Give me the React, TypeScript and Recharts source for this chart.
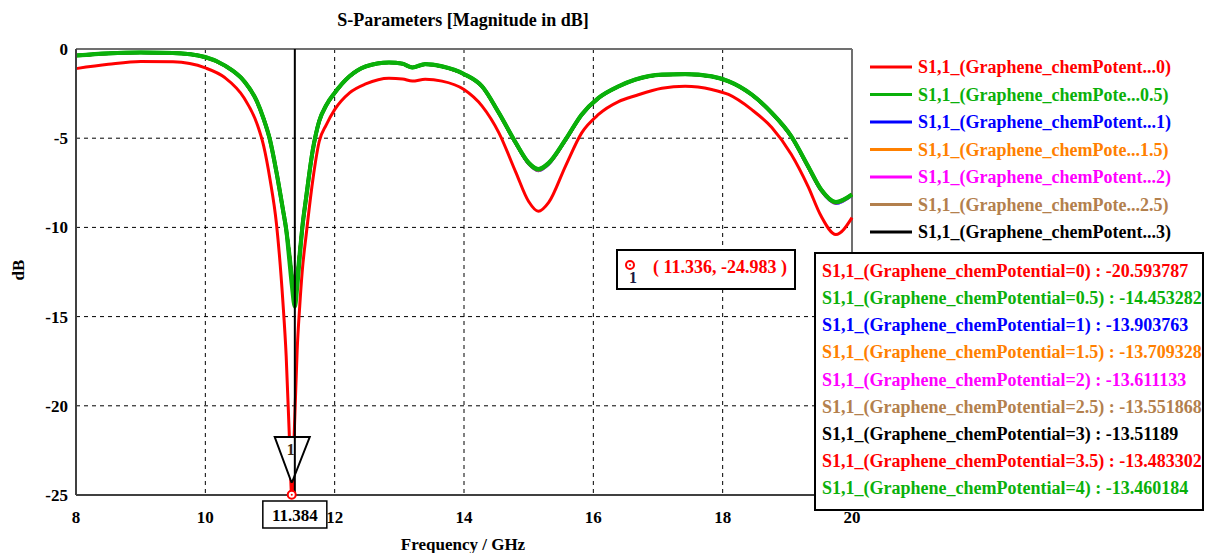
import React from 'react';
import { LineChart, Line, XAxis, YAxis, CartesianGrid, ReferenceLine, ReferenceDot } from 'recharts';

const FONT = '"Liberation Serif", "Times New Roman", serif';

const freq = [8.0, 8.5, 9.0, 9.5, 10.0, 10.3, 10.6, 10.8, 10.9, 11.0, 11.1, 11.2, 11.25, 11.3, 11.336, 11.384, 11.42, 11.46, 11.5, 11.56, 11.66, 11.76, 11.87, 12.0, 12.23, 12.48, 12.84, 13.05, 13.2, 13.4, 13.66, 14.0, 14.28, 14.54, 14.8, 15.0, 15.15, 15.31, 15.57, 15.82, 16.08, 16.39, 16.65, 17.06, 17.42, 17.83, 18.09, 18.45, 18.76, 19.06, 19.32, 19.52, 19.75, 20.0];

const s0 = [-1.10, -0.86, -0.70, -0.72, -1.06, -1.60, -2.75, -4.20, -5.40, -7.30, -9.80, -14.20, -17.20, -21.80, -24.983, -20.594, -16.90, -14.40, -12.40, -10.40, -7.40, -5.20, -4.25, -3.40, -2.46, -1.96, -1.64, -1.68, -1.80, -1.70, -1.80, -2.27, -3.20, -4.70, -6.90, -8.55, -9.10, -8.60, -6.56, -4.70, -3.67, -2.95, -2.62, -2.20, -2.09, -2.27, -2.55, -3.40, -4.40, -5.90, -7.70, -9.35, -10.40, -9.45];
const s05 = [-0.36, -0.24, -0.19, -0.22, -0.45, -0.92, -1.80, -2.95, -3.90, -5.10, -6.90, -9.00, -10.10, -11.90, -13.20, -14.453, -13.40, -11.70, -10.00, -8.30, -5.70, -4.05, -3.15, -2.46, -1.53, -0.97, -0.75, -0.82, -1.03, -0.84, -0.97, -1.40, -2.09, -3.58, -5.25, -6.37, -6.72, -6.38, -5.07, -3.67, -2.74, -2.09, -1.71, -1.43, -1.40, -1.53, -1.80, -2.55, -3.58, -4.88, -6.56, -7.86, -8.57, -8.15];
const s1 = [-0.37, -0.25, -0.20, -0.23, -0.46, -0.93, -1.81, -2.96, -3.90, -5.10, -6.90, -9.00, -10.10, -11.60, -12.90, -13.904, -13.10, -11.50, -10.00, -8.30, -5.70, -4.05, -3.15, -2.46, -1.53, -0.98, -0.76, -0.83, -1.04, -0.85, -0.98, -1.41, -2.10, -3.60, -5.30, -6.45, -6.82, -6.46, -5.12, -3.70, -2.75, -2.10, -1.72, -1.44, -1.41, -1.54, -1.81, -2.57, -3.60, -4.92, -6.62, -7.93, -8.66, -8.20];
const s15 = [-0.37, -0.25, -0.20, -0.23, -0.46, -0.93, -1.81, -2.96, -3.90, -5.10, -6.90, -9.00, -10.10, -11.50, -12.80, -13.709, -12.95, -11.40, -10.00, -8.30, -5.70, -4.05, -3.15, -2.46, -1.53, -0.98, -0.76, -0.83, -1.04, -0.85, -0.98, -1.41, -2.10, -3.60, -5.29, -6.43, -6.80, -6.44, -5.11, -3.69, -2.75, -2.10, -1.72, -1.44, -1.41, -1.54, -1.81, -2.57, -3.60, -4.91, -6.61, -7.91, -8.63, -8.19];
const s2 = [-0.37, -0.25, -0.20, -0.23, -0.46, -0.93, -1.81, -2.96, -3.90, -5.10, -6.90, -9.00, -10.10, -11.50, -12.75, -13.611, -12.90, -11.40, -10.00, -8.30, -5.70, -4.05, -3.15, -2.46, -1.53, -0.98, -0.76, -0.83, -1.04, -0.85, -0.98, -1.41, -2.10, -3.60, -5.28, -6.42, -6.78, -6.43, -5.10, -3.69, -2.75, -2.10, -1.72, -1.44, -1.41, -1.54, -1.81, -2.56, -3.59, -4.90, -6.60, -7.90, -8.62, -8.18];
const s25 = [-0.37, -0.25, -0.20, -0.23, -0.46, -0.93, -1.81, -2.96, -3.90, -5.10, -6.90, -9.00, -10.10, -11.50, -12.72, -13.552, -12.85, -11.40, -10.00, -8.30, -5.70, -4.05, -3.15, -2.46, -1.53, -0.98, -0.76, -0.83, -1.04, -0.85, -0.98, -1.41, -2.10, -3.59, -5.27, -6.41, -6.77, -6.42, -5.09, -3.68, -2.75, -2.10, -1.72, -1.44, -1.41, -1.54, -1.81, -2.56, -3.59, -4.90, -6.59, -7.89, -8.61, -8.17];
const s3 = [-0.37, -0.25, -0.20, -0.23, -0.46, -0.93, -1.81, -2.96, -3.90, -5.10, -6.90, -9.00, -10.10, -11.50, -12.70, -13.512, -12.82, -11.40, -10.00, -8.30, -5.70, -4.05, -3.15, -2.46, -1.53, -0.98, -0.76, -0.83, -1.04, -0.85, -0.98, -1.41, -2.10, -3.59, -5.27, -6.40, -6.76, -6.41, -5.09, -3.68, -2.75, -2.10, -1.72, -1.44, -1.41, -1.54, -1.81, -2.56, -3.59, -4.89, -6.58, -7.88, -8.60, -8.17];
const s35 = [-0.37, -0.25, -0.20, -0.23, -0.46, -0.93, -1.81, -2.96, -3.90, -5.10, -6.90, -9.00, -10.10, -11.50, -12.68, -13.483, -12.80, -11.40, -10.00, -8.30, -5.70, -4.05, -3.15, -2.46, -1.53, -0.98, -0.76, -0.83, -1.04, -0.85, -0.98, -1.41, -2.10, -3.59, -5.27, -6.40, -6.76, -6.41, -5.09, -3.68, -2.75, -2.10, -1.72, -1.44, -1.41, -1.54, -1.81, -2.56, -3.59, -4.89, -6.58, -7.88, -8.60, -8.16];
const s4 = [-0.37, -0.25, -0.20, -0.23, -0.46, -0.93, -1.81, -2.96, -3.90, -5.10, -6.90, -9.00, -10.10, -11.50, -12.66, -13.460, -12.78, -11.40, -10.00, -8.30, -5.70, -4.05, -3.15, -2.46, -1.53, -0.98, -0.76, -0.83, -1.04, -0.85, -0.98, -1.41, -2.10, -3.59, -5.26, -6.39, -6.75, -6.40, -5.08, -3.68, -2.75, -2.10, -1.72, -1.44, -1.41, -1.54, -1.81, -2.56, -3.58, -4.89, -6.57, -7.87, -8.59, -8.16];

const xTicks = [8, 10, 12, 14, 16, 18, 20];
const yTicks = [-25, -20, -15, -10, -5, 0];

const legendLabels = [
  'S1,1_(Graphene_chemPotent...0)',
  'S1,1_(Graphene_chemPote...0.5)',
  'S1,1_(Graphene_chemPotent...1)',
  'S1,1_(Graphene_chemPote...1.5)',
  'S1,1_(Graphene_chemPotent...2)',
  'S1,1_(Graphene_chemPote...2.5)',
  'S1,1_(Graphene_chemPotent...3)',
];
const GREEN = '#0AB00A';
const legendColors = ['#FF0000', GREEN, '#0000FF', '#FF8000', '#FF00FF', '#B3804D', '#000000'];

const valueLabels = [
  'S1,1_(Graphene_chemPotential=0) : -20.593787',
  'S1,1_(Graphene_chemPotential=0.5) : -14.453282',
  'S1,1_(Graphene_chemPotential=1) : -13.903763',
  'S1,1_(Graphene_chemPotential=1.5) : -13.709328',
  'S1,1_(Graphene_chemPotential=2) : -13.611133',
  'S1,1_(Graphene_chemPotential=2.5) : -13.551868',
  'S1,1_(Graphene_chemPotential=3) : -13.51189',
  'S1,1_(Graphene_chemPotential=3.5) : -13.483302',
  'S1,1_(Graphene_chemPotential=4) : -13.460184',
];
const valueColors = ['#FF0000', GREEN, '#0000FF', '#FF8000', '#FF00FF', '#B3804D', '#000000', '#FF0000', GREEN];

const markerX = 11.384;
const markerPointX = 11.336;
const markerPointY = -24.983;
const markerLabel = '( 11.336, -24.983 )';
const markerXLabel = '11.384';

const X_MIN = 8;
const X_MAX = 20;
const PLOT_W = 776;

const data = freq.map((f, i) => ({
  f, s0: s0[i], s05: s05[i], s1: s1[i], s15: s15[i], s2: s2[i], s25: s25[i], s3: s3[i], s35: s35[i], s4: s4[i],
}));

const drawOrder: { key: string; color: string; width: number }[] = [
  { key: 's0', color: '#FF0000', width: 3 },
  { key: 's1', color: '#0000FF', width: 3 },
  { key: 's15', color: '#FF8000', width: 3 },
  { key: 's2', color: '#FF00FF', width: 3 },
  { key: 's25', color: '#B3804D', width: 3 },
  { key: 's3', color: '#000000', width: 3 },
  { key: 's35', color: '#FF0000', width: 3 },
  { key: 's05', color: GREEN, width: 4 },
  { key: 's4', color: GREEN, width: 4 },
];

const tickStyle = { fontSize: 17, fontWeight: 'bold' as const, fill: '#000', fontFamily: FONT };

// marker line drawn together with the triangle so the line sits on top of the triangle
const MarkerLineShape = (props: any) => {
  const { x1, y1, x2, y2 } = props;
  const tx = x1 - ((markerX - markerPointX) * PLOT_W) / (X_MAX - X_MIN);
  const by = Math.max(y1, y2);
  return (
    <g>
      <polygon points={`${tx - 17},${by - 58} ${tx + 18},${by - 58} ${tx},${by - 12}`} fill="#fff" stroke="#000" strokeWidth={2} />
      <line x1={tx} x2={tx + 1} y1={by - 12} y2={by - 4} stroke="#FF0000" strokeWidth={3} />
      <line x1={x1} y1={y1} x2={x2} y2={y2} stroke="#000" strokeWidth={2} />
    </g>
  );
};

const PointShape = (props: any) => {
  const { cx, cy } = props;
  return (
    <g>
      <text x={cx - 1} y={cy - 40} textAnchor="middle" fontSize={16} fontWeight="bold" fill="#3a2a10" fontFamily={FONT}>1</text>
      <circle cx={cx} cy={cy} r={4} fill="#fff" stroke="#FF0000" strokeWidth={2} />
      <circle cx={cx} cy={cy} r={1} fill="#FF0000" />
    </g>
  );
};

const XValueBox = (props: any) => {
  const { cx, cy } = props;
  return (
    <g>
      <rect x={cx - 32} y={cy + 6} width={64} height={27} fill="#fff" stroke="#000" strokeWidth={1.5} />
      <text x={cx} y={cy + 26} textAnchor="middle" fontSize={17} fontWeight="bold" fill="#000" fontFamily={FONT}>{markerXLabel}</text>
    </g>
  );
};

export default function App() {
  return (
    <div style={{ position: 'absolute', left: 0, top: 0, width: 1205, height: 553, background: '#fff', fontFamily: FONT }}>
      <LineChart width={1205} height={553} data={data} margin={{ top: 49, right: 353, bottom: 28, left: 6 }}>
        <CartesianGrid stroke="#000" strokeDasharray="4 4" strokeWidth={1} />
        <XAxis
          dataKey="f"
          type="number"
          domain={[X_MIN, X_MAX]}
          ticks={xTicks}
          height={30}
          tickLine={false}
          tickMargin={10}
          axisLine={{ stroke: '#404040', strokeWidth: 2 }}
          tick={tickStyle}
        />
        <YAxis
          type="number"
          domain={[-25, 0]}
          ticks={yTicks}
          width={70}
          tickLine={false}
          axisLine={{ stroke: '#404040', strokeWidth: 2 }}
          tick={tickStyle}
        />
        <ReferenceLine y={0} stroke="#707070" strokeWidth={2} />
        <ReferenceLine x={20} stroke="#707070" strokeWidth={2} />
        {drawOrder.map((s) => (
          <Line
            key={s.key}
            dataKey={s.key}
            type="monotone"
            stroke={s.color}
            strokeWidth={s.width}
            dot={false}
            isAnimationActive={false}
          />
        ))}
        <ReferenceLine x={markerX} stroke="#000" strokeWidth={2} shape={MarkerLineShape} />
        <ReferenceDot x={markerPointX} y={markerPointY} r={4} shape={PointShape} />
        <ReferenceDot x={markerX} y={-25} r={4} shape={XValueBox} />
      </LineChart>
      <svg width={1205} height={553} style={{ position: 'absolute', left: 0, top: 0, pointerEvents: 'none' }} fontFamily={FONT} fontWeight="bold">
        <text x={463} y={26} textAnchor="middle" fontSize={18} fill="#000">S-Parameters [Magnitude in dB]</text>
        <text transform="translate(24,270) rotate(-90)" textAnchor="middle" fontSize={17} fill="#000">dB</text>
        <text x={463} y={550} textAnchor="middle" fontSize={17} fill="#000">Frequency / GHz</text>
        {legendLabels.map((l, i) => {
          const y = 67 + i * 27.5;
          return (
            <g key={l}>
              <line x1={870} x2={912} y1={y} y2={y} stroke={legendColors[i]} strokeWidth={3} />
              <text x={918} y={y + 6} fontSize={18} fill={legendColors[i]}>{l}</text>
            </g>
          );
        })}
        <rect x={617} y={250} width={178} height={39} fill="#fff" stroke="#000" strokeWidth={2} />
        <circle cx={630} cy={265} r={4} fill="#fff" stroke="#FF0000" strokeWidth={2} />
        <circle cx={630} cy={265} r={1} fill="#FF0000" />
        <text x={633} y={283} textAnchor="middle" fontSize={16} fill="#1a1a40">1</text>
        <text x={653} y={273} fontSize={18} fill="#FF0000">{markerLabel}</text>
        <rect x={815} y={253} width={388} height={257} fill="#fff" stroke="#000" strokeWidth={2} />
        {valueLabels.map((l, i) => (
          <text key={l} x={822} y={277 + i * 27.15} fontSize={18} fill={valueColors[i]}>{l}</text>
        ))}
      </svg>
    </div>
  );
}
